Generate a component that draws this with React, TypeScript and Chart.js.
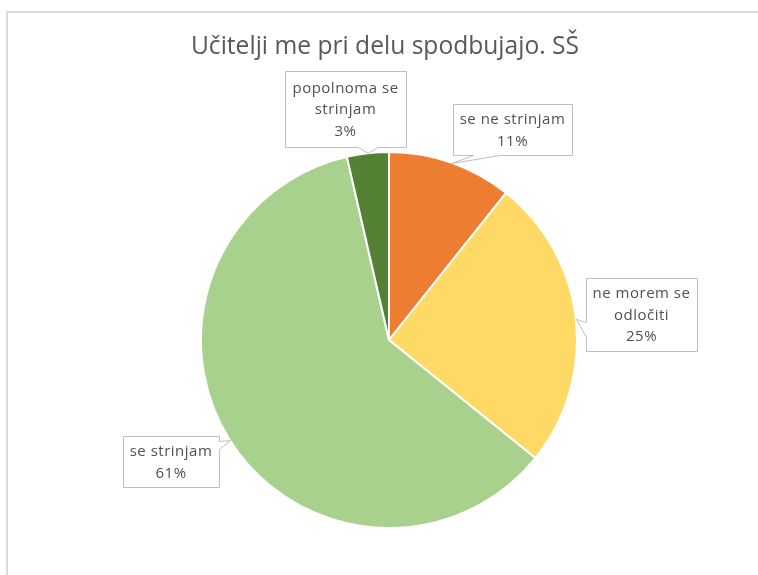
import React, { useEffect, useRef } from "react";
import { Chart, registerables } from "chart.js";

Chart.register(...registerables);

// ---- data ----
const titleText = "Učitelji me pri delu spodbujajo. SŠ";
const categories = ["se ne strinjam", "ne morem se odločiti", "se strinjam", "popolnoma se strinjam"];
const shares = [10.7, 25.1, 60.6, 3.6];
const percentLabels = ["11%", "25%", "61%", "3%"];
const labelLines = [["se ne strinjam"], ["ne morem se", "odločiti"], ["se strinjam"], ["popolnoma se", "strinjam"]];
const colors = ["#ED7D31", "#FFD966", "#A9D18E", "#548235"];

// ---- callout layout (box rect + side of pointer + base span along that side) ----
const calloutBoxes = [
  { x: 453, y: 104, w: 119, h: 51, side: "bottom", a: 473, b: 500 },
  { x: 586, y: 278, w: 111, h: 73, side: "left", a: 322, b: 337 },
  { x: 123, y: 436, w: 96, h: 51, side: "right", a: 441, b: 449 },
  { x: 285, y: 71, w: 121, h: 76, side: "bottom", a: 358, b: 377 },
];

const FONT = "'Open Sans', 'DejaVu Sans', sans-serif";

const decorPlugin = {
  id: "decor",
  beforeDraw(chart: any) {
    const ctx = chart.ctx as CanvasRenderingContext2D;
    ctx.save();
    ctx.fillStyle = "#ffffff";
    ctx.fillRect(0, 0, chart.width, chart.height);
    // frame
    ctx.strokeStyle = "#d9d9d9";
    ctx.lineWidth = 2;
    ctx.beginPath();
    ctx.moveTo(7, chart.height + 5);
    ctx.lineTo(7, 12);
    ctx.lineTo(chart.width + 5, 12);
    ctx.stroke();
    // title
    ctx.fillStyle = "#595959";
    ctx.font = `24.6px ${FONT}`;
    ctx.textAlign = "center";
    ctx.textBaseline = "middle";
    ctx.fillText(titleText, 385, 47);
    ctx.restore();
  },
  afterDatasetsDraw(chart: any) {
    const ctx = chart.ctx as CanvasRenderingContext2D;
    const meta = chart.getDatasetMeta(0);
    meta.data.forEach((arc: any, i: number) => {
      const p = arc.getProps(["x", "y", "startAngle", "endAngle", "outerRadius"], true);
      const mid = (p.startAngle + p.endAngle) / 2;
      const tip = { x: p.x + Math.cos(mid) * p.outerRadius, y: p.y + Math.sin(mid) * p.outerRadius };
      const bx = calloutBoxes[i];
      const L = bx.x, T = bx.y, R = bx.x + bx.w, B = bx.y + bx.h;
      const pts: [number, number][] = [];
      pts.push([L, T]);
      if (bx.side === "top") pts.push([bx.a, T], [tip.x, tip.y], [bx.b, T]);
      pts.push([R, T]);
      if (bx.side === "right") pts.push([R, bx.a], [tip.x, tip.y], [R, bx.b]);
      pts.push([R, B]);
      if (bx.side === "bottom") pts.push([bx.b, B], [tip.x, tip.y], [bx.a, B]);
      pts.push([L, B]);
      if (bx.side === "left") pts.push([L, bx.b], [tip.x, tip.y], [L, bx.a]);
      ctx.save();
      ctx.beginPath();
      pts.forEach(([px, py], k) => {
        const sx = Math.round(px) + 0.5, sy = Math.round(py) + 0.5;
        if (k === 0) ctx.moveTo(sx, sy);
        else ctx.lineTo(sx, sy);
      });
      ctx.closePath();
      ctx.fillStyle = "#ffffff";
      ctx.fill();
      ctx.strokeStyle = "#bfbfbf";
      ctx.lineWidth = 1;
      ctx.stroke();
      // text
      const lines = [...labelLines[i], percentLabels[i]];
      const lh = 21.5;
      const cx = (L + R) / 2;
      const cy = (T + B) / 2 + 1;
      ctx.fillStyle = "#505050";
      ctx.font = `15px ${FONT}`;
      (ctx as any).letterSpacing = "0.5px";
      ctx.textAlign = "center";
      ctx.textBaseline = "middle";
      lines.forEach((ln, k) => {
        ctx.fillText(ln, cx, cy + (k - (lines.length - 1) / 2) * lh);
      });
      ctx.restore();
    });
  },
};

export default function App() {
  const ref = useRef<HTMLCanvasElement | null>(null);
  useEffect(() => {
    document.body.style.margin = "0";
    document.body.style.overflow = "hidden";
    if (!ref.current) return;
    const chart = new Chart(ref.current, {
      type: "pie",
      data: {
        labels: categories,
        datasets: [
          {
            data: shares,
            backgroundColor: colors,
            borderColor: "#ffffff",
            borderWidth: 2,
          },
        ],
      },
      options: {
        responsive: false,
        animation: false,
        layout: { padding: { left: 200, right: 180, top: 151, bottom: 46 } },
        plugins: {
          legend: { display: false },
          tooltip: { enabled: false },
          title: { display: false },
        },
      },
      plugins: [decorPlugin],
    });
    return () => chart.destroy();
  }, []);
  return (
    <div style={{ width: 758, height: 575 }}>
      <canvas ref={ref} width={758} height={575} style={{ display: "block" }} />
    </div>
  );
}
